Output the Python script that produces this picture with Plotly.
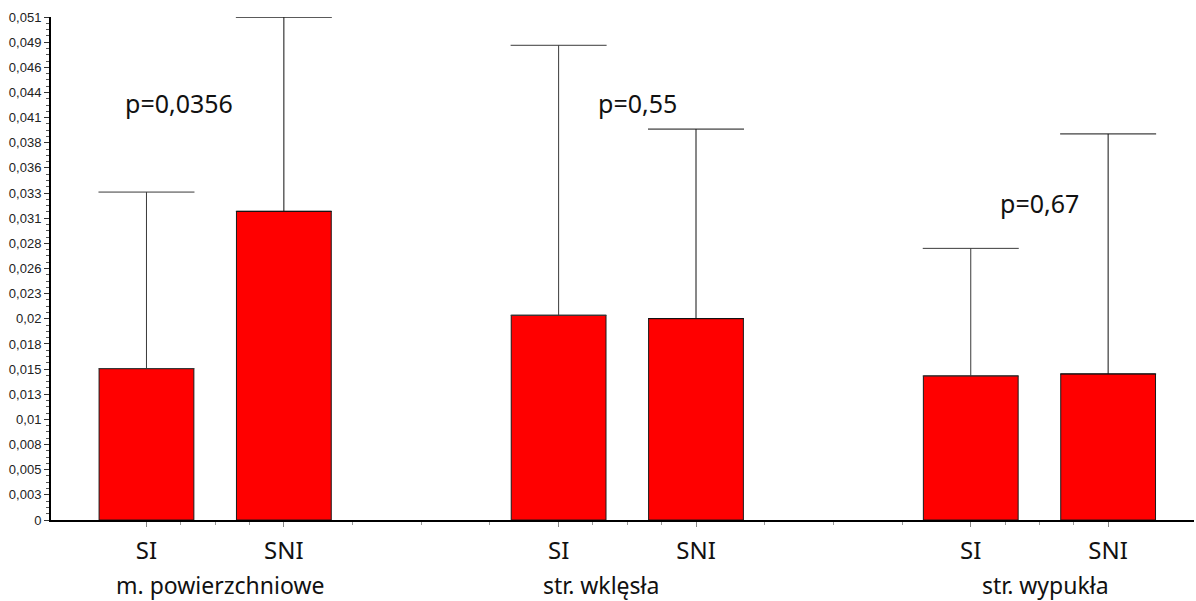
import plotly.graph_objects as go

# Group names, bar labels and measured values
groups = ["m. powierzchniowe", "str. wklęsła", "str. wypukła"]
bar_labels = ["SI", "SNI"]
si_means = [0.01541, 0.02084, 0.01467]
sni_means = [0.03142, 0.02050, 0.01487]
si_sd = [0.01797, 0.02748, 0.01298]
sni_sd = [0.01976, 0.01929, 0.02443]
p_values = ["p=0,0356", "p=0,55", "p=0,67"]

# Y tick labels as printed on the axis
y_tick_text = ["0", "0,003", "0,005", "0,008", "0,01", "0,013", "0,015", "0,018",
               "0,02", "0,023", "0,026", "0,028", "0,031", "0,033", "0,036",
               "0,038", "0,041", "0,044", "0,046", "0,049", "0,051"]

# Layout of the numeric x axis: each group spans 12 units, SI at +0, SNI at +4
GROUP_STEP = 12
PAIR_GAP = 4
si_x = [i * GROUP_STEP for i in range(len(groups))]
sni_x = [i * GROUP_STEP + PAIR_GAP for i in range(len(groups))]
BAR_W = 2.76

Y_STEP = 0.00256
y_tick_vals = [i * Y_STEP for i in range(len(y_tick_text))]

minor_x = []
for i in range(len(groups)):
    base = i * GROUP_STEP
    minor_x += [base + 1, base + 2, base + 3]
    if i < len(groups) - 1:
        minor_x += [base + 6, base + 8, base + 10]

fig = go.Figure()

def add_bars(xs, means, sds, err_color):
    fig.add_trace(go.Bar(
        x=xs, y=means, width=BAR_W,
        marker=dict(color="#FF0000", line=dict(color="#1a1a1a", width=1)),
        error_y=dict(type="data", array=sds, arrayminus=[0] * len(sds),
                     symmetric=False, color=err_color, thickness=1, width=48),
        hoverinfo="skip",
    ))

add_bars(si_x, si_means, si_sd, "#3a3a3a")
add_bars(sni_x, sni_means, sni_sd, "#111111")

# p-value labels
p_pos = [(0.94, 0.0424), (14.3, 0.0424), (26.0, 0.0323)]
for txt, (px, py) in zip(p_values, p_pos):
    fig.add_annotation(x=px, y=py, text=txt, showarrow=False,
                       xanchor="center", yanchor="middle",
                       font=dict(family="Noto Sans", size=25, color="#111"))

# group names under the bar labels
name_x = [2.13, 13.24, 26.17]
for name, nx in zip(groups, name_x):
    fig.add_annotation(x=nx, y=0, yref="paper", text=name, showarrow=False,
                       xanchor="center", yanchor="middle", yshift=-65,
                       font=dict(family="Noto Sans", size=23, color="#111"))

fig.update_layout(
    width=1196, height=601,
    margin=dict(l=51, r=2, t=17, b=81),
    plot_bgcolor="white", paper_bgcolor="white",
    showlegend=False,
    barmode="overlay",
    xaxis=dict(
        range=[-2.78, 30.5],
        tickmode="array",
        tickvals=si_x + sni_x,
        ticktext=[bar_labels[0]] * len(si_x) + [bar_labels[1]] * len(sni_x),
        ticks="outside", ticklen=5, tickwidth=1, tickcolor="#888",
        minor=dict(tickmode="array", tickvals=minor_x, ticks="outside",
                   ticklen=3, tickwidth=1, tickcolor="#999"),
        showline=True, linecolor="black", linewidth=2,
        showgrid=False, zeroline=False,
        ticklabelstandoff=3,
        tickfont=dict(family="Noto Sans", size=24, color="#111"),
        fixedrange=True,
    ),
    yaxis=dict(
        range=[0, 0.0512],
        tickmode="array", tickvals=y_tick_vals, ticktext=y_tick_text,
        ticks="outside", ticklen=5, tickwidth=1, tickcolor="#333",
        minor=dict(tick0=0, dtick=Y_STEP / 4, ticks="outside",
                   ticklen=3, tickwidth=1, tickcolor="#555"),
        showline=True, linecolor="black", linewidth=2,
        showgrid=False, zeroline=False,
        tickfont=dict(family="Liberation Sans", size=13, color="#222"),
        fixedrange=True,
    ),
)

fig.write_html("out.html")
